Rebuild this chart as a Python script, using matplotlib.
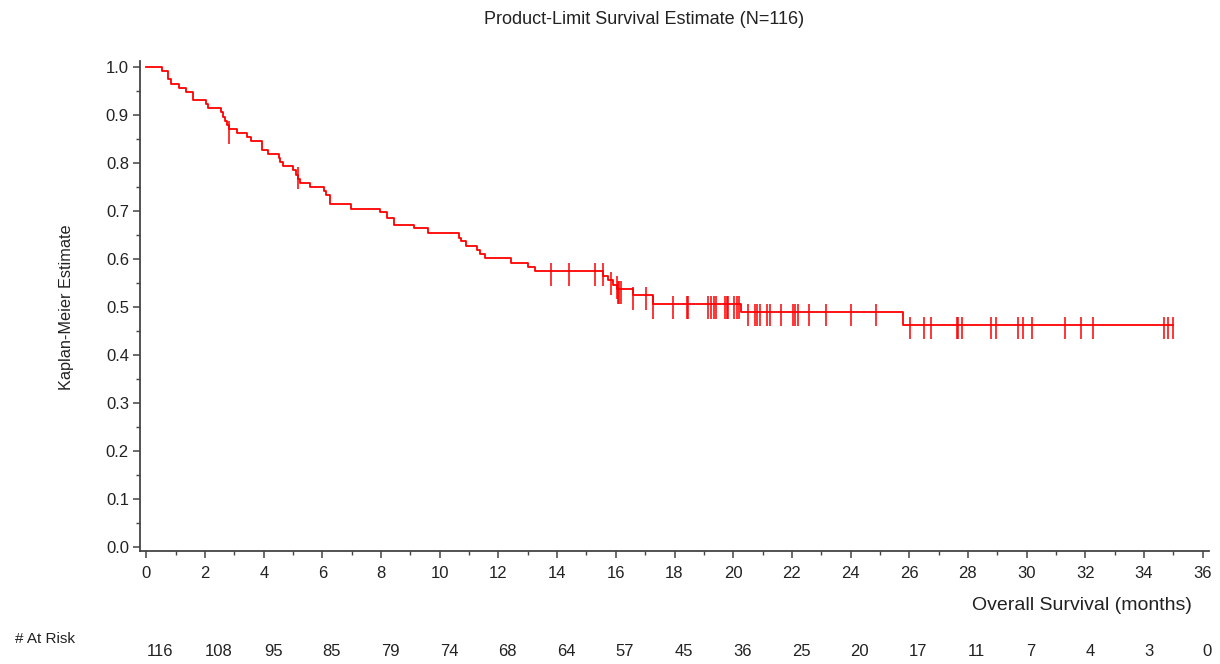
import numpy as np
import matplotlib
matplotlib.use("Agg")
import matplotlib.pyplot as plt
from matplotlib.ticker import MultipleLocator

plt.rcParams['font.family'] = ['Liberation Sans', 'DejaVu Sans']

# Kaplan-Meier step curve: event times (months) and survival after each step
step_times = [0.0, 0.54, 0.74, 0.82, 1.11, 1.35, 1.60, 2.02, 2.09, 2.55, 2.60,
              2.67, 2.73, 2.80, 3.10, 3.42, 3.55, 3.95, 4.15, 4.51, 4.55, 4.66,
              4.98, 5.10, 5.17, 5.23, 5.57, 6.05, 6.12, 6.26, 6.96, 7.96, 8.21,
              8.45, 9.12, 9.60, 10.64, 10.71, 10.89, 11.28, 11.37, 11.55, 12.43,
              13.00, 13.24, 15.57, 15.75, 15.89, 16.05, 16.60, 17.28, 20.27, 25.80]
step_surv = [1.000, 0.992, 0.974, 0.965, 0.956, 0.947, 0.931, 0.922, 0.914, 0.905, 0.896,
             0.888, 0.879, 0.870, 0.862, 0.853, 0.845, 0.827, 0.818, 0.810, 0.801, 0.793,
             0.784, 0.775, 0.767, 0.758, 0.749, 0.741, 0.732, 0.715, 0.704, 0.698, 0.685,
             0.671, 0.663, 0.654, 0.643, 0.636, 0.627, 0.619, 0.610, 0.601, 0.592,
             0.583, 0.574, 0.565, 0.555, 0.546, 0.536, 0.524, 0.505, 0.489, 0.462]

# Censored observations (months)
censor_times = [2.82, 5.15, 13.78, 14.39, 15.28, 15.55, 15.83, 16.03, 16.09, 16.12,
                16.18, 16.60, 17.03, 17.28, 17.96, 18.42, 18.47, 19.15, 19.25, 19.35,
                19.40, 19.72, 19.78, 19.84, 20.03, 20.12, 20.20, 20.52, 20.75, 20.80,
                20.92, 21.17, 21.25, 21.63, 22.05, 22.11, 22.22, 22.60, 23.17, 24.02,
                24.87, 26.02, 26.50, 26.73, 27.62, 27.68, 27.80, 28.80, 28.95, 29.72,
                29.88, 30.17, 31.30, 31.85, 32.28, 34.67, 34.82, 35.00]

# Number at risk table
risk_times = [0, 2, 4, 6, 8, 10, 12, 14, 16, 18, 20, 22, 24, 26, 28, 30, 32, 34, 36]
risk_counts = [116, 108, 95, 85, 79, 74, 68, 64, 57, 45, 36, 25, 20, 17, 11, 7, 4, 3, 0]

title = "Product-Limit Survival Estimate (N=116)"
x_label = "Overall Survival (months)"
y_label = "Kaplan-Meier Estimate"
risk_label = "# At Risk"

W, H = 1220, 664
fig = plt.figure(figsize=(W / 100, H / 100), dpi=100)
ax = fig.add_axes([140 / W, 1 - 551 / H, (1209 - 140) / W, (551 - 61) / H])

red = "#FF0000"
ink = "#222222"
t_arr = np.array(step_times)
s_arr = np.array(step_surv)
end_t = max(censor_times)
ax.step(np.append(t_arr, end_t), np.append(s_arr, s_arr[-1]), where='post',
        color=red, lw=1.3)

# censor ticks sit on the curve value at each censoring time
c_arr = np.array(censor_times)
c_surv = s_arr[np.searchsorted(t_arr, c_arr, side='right') - 1]
ax.vlines(c_arr, c_surv - 0.030, c_surv + 0.017, color=red, lw=1.3, alpha=0.85)

ax.set_xlim(-0.22, 36.22)
ax.set_ylim(-0.009, 1.012)
ax.xaxis.set_major_locator(MultipleLocator(2))
ax.xaxis.set_minor_locator(MultipleLocator(1))
ax.yaxis.set_major_locator(MultipleLocator(0.1))
ax.yaxis.set_minor_locator(MultipleLocator(0.05))
ax.yaxis.set_major_formatter(matplotlib.ticker.FormatStrFormatter('%.1f'))
for side in ('top', 'right'):
    ax.spines[side].set_visible(False)
for side in ('left', 'bottom'):
    ax.spines[side].set_color('#444444')
    ax.spines[side].set_linewidth(1.3)
ax.tick_params(which='major', length=5, width=1.1, color='#444444',
               labelsize=12, labelcolor=ink, pad=3)
ax.tick_params(which='minor', length=3, width=1.0, color='#444444')
ax.tick_params(axis='x', which='major', pad=6)

fig.text(644 / W, 1 - 19 / H, title, ha='center', va='center', fontsize=13,
         color=ink)
fig.text(66 / W, 1 - 307 / H, y_label, ha='center', va='center', rotation=90,
         fontsize=11.7, color=ink)
fig.text(1192 / W, 1 - 606 / H, x_label, ha='right', va='center', fontsize=14,
         color=ink)
fig.text(15 / W, 1 - 639 / H, risk_label, ha='left', va='center', fontsize=11,
         color=ink)

trans = matplotlib.transforms.blended_transform_factory(ax.transData, fig.transFigure)
for t, n in zip(risk_times, risk_counts):
    ax.text(t, 1 - 652 / H, str(n), transform=trans, ha='left', va='center',
            fontsize=12, color=ink, clip_on=False)

fig.savefig("out.png", dpi=100)
